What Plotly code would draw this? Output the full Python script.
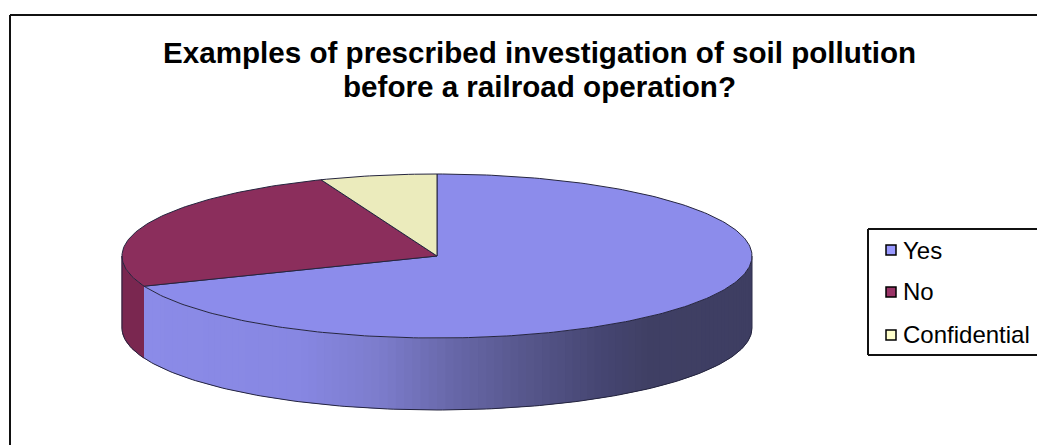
import math
import plotly.graph_objects as go

categories = ["Yes", "No", "Confidential"]
values = [69, 25, 6]
top_colors = ["#8C8CEB", "#8B2E5C", "#EBEBBC"]
swatch_colors = ["#9999FF", "#993366", "#FFFFCC"]
title_lines = ["Examples of prescribed investigation of soil pollution",
               "before a railroad operation?"]

W, H = 1037, 445
cx, cy, rx, ry, depth = 437, 256, 315, 82, 72
OUT = "#25253f"


def pt(deg, drop=0):
    t = math.radians(deg)
    return cx + rx * math.sin(t), cy - ry * math.cos(t) + drop


def arc(a, b, drop=0, step=1.0):
    n = max(2, int(abs(b - a) / step) + 1)
    return [pt(a + (b - a) * i / (n - 1), drop) for i in range(n)]


def wall_rgb(x):
    stops = [(146, (139, 139, 232)), (300, (135, 135, 226)), (380, (124, 124, 204)),
             (450, (104, 104, 170)), (520, (88, 88, 142)), (600, (70, 70, 114)),
             (650, (63, 63, 100)), (752, (62, 62, 98))]
    for (x0, c0), (x1, c1) in zip(stops, stops[1:]):
        if x <= x1:
            f = max(0, (x - x0) / (x1 - x0))
            return tuple(round(a + (b - a) * f) for a, b in zip(c0, c1))
    return stops[-1][1]


fig = go.Figure()


def poly(points, fill, line=None, width=1):
    xs, ys = zip(*points)
    fig.add_trace(go.Scatter(x=xs, y=ys, mode="lines", fill="toself", fillcolor=fill,
                             line=dict(color=line or fill, width=width),
                             showlegend=False, hoverinfo="skip"))


def outline(points, width=1, color=OUT):
    xs, ys = zip(*points)
    fig.add_trace(go.Scatter(x=xs, y=ys, mode="lines", line=dict(color=color, width=width),
                             showlegend=False, hoverinfo="skip"))


# slice boundaries, clockwise from twelve o'clock
total = sum(values)
edges = [0]
for v in values:
    edges.append(edges[-1] + 360 * v / total)

# side wall, front half only: painted from the dark end, each band overlapping the next
split = edges[1]
poly(arc(split, 270) + arc(270, split, depth), "#7A2750")
a = 90.0
while a < split:
    b = min(a + 1.5, split)
    mid = pt((a + b) / 2)[0]
    r, g, bl = wall_rgb(mid)
    col = f"rgb({r},{g},{bl})"
    end = min(b + 1.5, split)
    poly(arc(a, end, 0, 0.5) + arc(end, a, depth, 0.5), col, width=0)
    a = b
outline(arc(90, 270, depth))
outline([pt(90), pt(90, depth)], color="#2b2b48")
outline([pt(270), pt(270, depth)])

# top faces
for i in range(len(values)):
    poly([(cx, cy)] + arc(edges[i], edges[i + 1]) + [(cx, cy)], top_colors[i], OUT, 1)

# frame and legend box
frame = dict(type="line", xref="x", yref="y", line=dict(color="#111111", width=2))
shapes = [
    dict(frame, x0=10, y0=H, x1=10, y1=15),
    dict(frame, x0=10, y0=15, x1=W, y1=15),
    dict(frame, x0=868, y0=229, x1=W, y1=229),
    dict(frame, x0=868, y0=355, x1=W, y1=355),
    dict(frame, x0=868, y0=229, x1=868, y1=355),
]

# legend entries
legend_y = [250, 292, 335]
legend_text_y = [253, 294, 337]
for name, col, y, ty in zip(categories, swatch_colors, legend_y, legend_text_y):
    fig.add_trace(go.Scatter(x=[891], y=[y], mode="markers",
                             marker=dict(symbol="square", size=10, color=col,
                                         line=dict(color="#000000", width=1.5)),
                             cliponaxis=False, showlegend=False, hoverinfo="skip"))
    fig.add_trace(go.Scatter(x=[903], y=[ty], mode="text", text=[name],
                             textposition="middle right",
                             textfont=dict(family="Liberation Sans", size=24, color="#000000"),
                             cliponaxis=False, showlegend=False, hoverinfo="skip"))

title_y = [52, 86]
annotations = [dict(text=t, x=539, y=y, xref="x", yref="y", showarrow=False,
                    xanchor="center", yanchor="middle",
                    font=dict(family="Liberation Sans", size=29.6, color="#000000", weight="bold"))
               for t, y in zip(title_lines, title_y)]

fig.update_layout(
    width=W, height=H, autosize=False,
    margin=dict(l=0, r=0, t=0, b=0),
    paper_bgcolor="#FFFFFF", plot_bgcolor="#FFFFFF",
    xaxis=dict(range=[0, W], visible=False, fixedrange=True),
    yaxis=dict(range=[H, 0], visible=False, fixedrange=True),
    shapes=shapes,
    annotations=annotations,
)
fig.write_html("out.html", config={"displayModeBar": False},
               post_script="document.body.style.margin='0';document.documentElement.style.overflow='hidden';")
